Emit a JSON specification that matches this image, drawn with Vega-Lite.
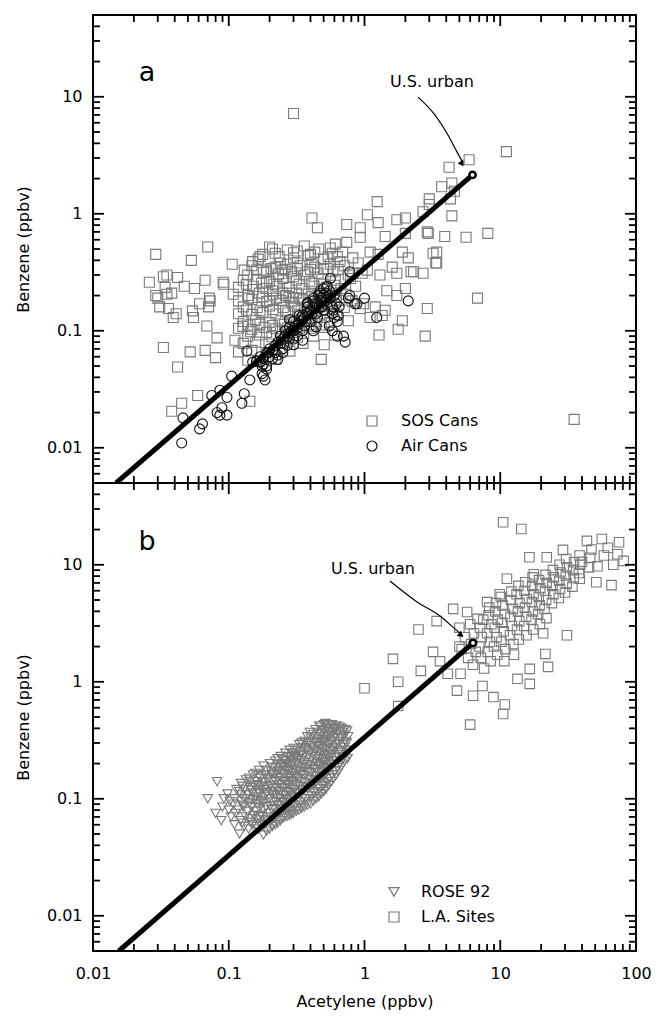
{
"$schema": "https://vega.github.io/schema/vega-lite/v6.json",
"padding": {"left": 14, "top": 14, "right": 5, "bottom": 5},
"background": "white",
"bounds": "flush",
"spacing": 0,
"config": {
  "font": "DejaVu Sans",
  "view": {"stroke": "black", "strokeWidth": 2},
  "axis": {"labelFont": "DejaVu Sans", "titleFont": "DejaVu Sans", "labelFontSize": 16, "titleFontSize": 16, "labelColor": "black", "titleColor": "black", "titleFontWeight": "normal", "domain": false, "grid": false, "labelFlush": false, "labelOverlap": false},
  "legend": {"labelFont": "DejaVu Sans", "labelFontSize": 16, "labelColor": "black", "padding": 0}
},
"resolve": {"scale": {"color": "independent", "shape": "independent"}, "legend": {"color": "independent", "shape": "independent"}},
"datasets": {
"xt": [{"v":0.01,"k":"major"},{"v":0.02,"k":"minor"},{"v":0.03,"k":"minor"},{"v":0.04,"k":"minor"},{"v":0.05,"k":"minor"},{"v":0.06,"k":"minor"},{"v":0.07,"k":"minor"},{"v":0.08,"k":"minor"},{"v":0.09,"k":"minor"},
{"v":0.1,"k":"major"},{"v":0.2,"k":"minor"},{"v":0.3,"k":"minor"},{"v":0.4,"k":"minor"},{"v":0.5,"k":"minor"},{"v":0.6,"k":"minor"},{"v":0.7,"k":"minor"},{"v":0.8,"k":"minor"},{"v":0.9,"k":"minor"},
{"v":1,"k":"major"},{"v":2,"k":"minor"},{"v":3,"k":"minor"},{"v":4,"k":"minor"},{"v":5,"k":"minor"},{"v":6,"k":"minor"},{"v":7,"k":"minor"},{"v":8,"k":"minor"},{"v":9,"k":"minor"},
{"v":10,"k":"major"},{"v":20,"k":"minor"},{"v":30,"k":"minor"},{"v":40,"k":"minor"},{"v":50,"k":"minor"},{"v":60,"k":"minor"},{"v":70,"k":"minor"},{"v":80,"k":"minor"},{"v":90,"k":"minor"},{"v":100,"k":"major"}],
"yt": [{"v":0.006,"k":"minor"},{"v":0.007,"k":"minor"},{"v":0.008,"k":"minor"},{"v":0.009,"k":"minor"},
{"v":0.01,"k":"major"},{"v":0.02,"k":"minor"},{"v":0.03,"k":"minor"},{"v":0.04,"k":"minor"},{"v":0.05,"k":"minor"},{"v":0.06,"k":"minor"},{"v":0.07,"k":"minor"},{"v":0.08,"k":"minor"},{"v":0.09,"k":"minor"},
{"v":0.1,"k":"major"},{"v":0.2,"k":"minor"},{"v":0.3,"k":"minor"},{"v":0.4,"k":"minor"},{"v":0.5,"k":"minor"},{"v":0.6,"k":"minor"},{"v":0.7,"k":"minor"},{"v":0.8,"k":"minor"},{"v":0.9,"k":"minor"},
{"v":1,"k":"major"},{"v":2,"k":"minor"},{"v":3,"k":"minor"},{"v":4,"k":"minor"},{"v":5,"k":"minor"},{"v":6,"k":"minor"},{"v":7,"k":"minor"},{"v":8,"k":"minor"},{"v":9,"k":"minor"},
{"v":10,"k":"major"},{"v":20,"k":"minor"},{"v":30,"k":"minor"},{"v":40,"k":"minor"}],
"a": [
{"s":"SOS Cans","x":0.029,"y":0.45},{"s":"SOS Cans","x":0.053,"y":0.40},{"s":"SOS Cans","x":0.106,"y":0.37},{"s":"SOS Cans","x":0.026,"y":0.26},{"s":"SOS Cans","x":0.033,"y":0.29},{"s":"SOS Cans","x":0.042,"y":0.285},{"s":"SOS Cans","x":0.056,"y":0.23},{"s":"SOS Cans","x":0.067,"y":0.27},{"s":"SOS Cans","x":0.091,"y":0.26},{"s":"SOS Cans","x":0.15,"y":0.225},
{"s":"SOS Cans","x":0.030,"y":0.19},{"s":"SOS Cans","x":0.038,"y":0.21},{"s":"SOS Cans","x":0.031,"y":0.16},{"s":"SOS Cans","x":0.039,"y":0.13},{"s":"SOS Cans","x":0.055,"y":0.13},{"s":"SOS Cans","x":0.071,"y":0.16},{"s":"SOS Cans","x":0.072,"y":0.19},{"s":"SOS Cans","x":0.069,"y":0.11},{"s":"SOS Cans","x":0.082,"y":0.087},{"s":"SOS Cans","x":0.033,"y":0.072},
{"s":"SOS Cans","x":0.052,"y":0.066},{"s":"SOS Cans","x":0.067,"y":0.068},{"s":"SOS Cans","x":0.08,"y":0.059},{"s":"SOS Cans","x":0.042,"y":0.049},{"s":"SOS Cans","x":0.059,"y":0.028},{"s":"SOS Cans","x":0.045,"y":0.024},{"s":"SOS Cans","x":0.038,"y":0.0205},{"s":"SOS Cans","x":0.143,"y":0.025},{"s":"SOS Cans","x":0.111,"y":0.083},{"s":"SOS Cans","x":0.127,"y":0.109},
{"s":"SOS Cans","x":0.48,"y":0.057},{"s":"SOS Cans","x":0.07,"y":0.52},{"s":"SOS Cans","x":0.13,"y":0.33},{"s":"SOS Cans","x":0.15,"y":0.39},{"s":"SOS Cans","x":0.17,"y":0.43},{"s":"SOS Cans","x":0.19,"y":0.32},{"s":"SOS Cans","x":0.035,"y":0.3},{"s":"SOS Cans","x":0.034,"y":0.235},{"s":"SOS Cans","x":0.047,"y":0.24},{"s":"SOS Cans","x":0.092,"y":0.25},
{"s":"SOS Cans","x":0.029,"y":0.2},{"s":"SOS Cans","x":0.035,"y":0.205},{"s":"SOS Cans","x":0.061,"y":0.17},{"s":"SOS Cans","x":0.073,"y":0.18},{"s":"SOS Cans","x":0.054,"y":0.148},{"s":"SOS Cans","x":0.036,"y":0.155},{"s":"SOS Cans","x":0.041,"y":0.14},{"s":"SOS Cans","x":0.3,"y":7.2},{"s":"SOS Cans","x":0.41,"y":0.92},{"s":"SOS Cans","x":0.45,"y":0.76},
{"s":"SOS Cans","x":1.24,"y":1.27},{"s":"SOS Cans","x":3.0,"y":1.2},{"s":"SOS Cans","x":1.05,"y":0.98},{"s":"SOS Cans","x":1.26,"y":0.84},{"s":"SOS Cans","x":1.73,"y":0.89},{"s":"SOS Cans","x":2.0,"y":0.92},{"s":"SOS Cans","x":0.74,"y":0.81},{"s":"SOS Cans","x":0.93,"y":0.76},{"s":"SOS Cans","x":0.93,"y":0.63},{"s":"SOS Cans","x":1.42,"y":0.64},
{"s":"SOS Cans","x":2.0,"y":0.68},{"s":"SOS Cans","x":2.9,"y":0.7},{"s":"SOS Cans","x":0.74,"y":0.57},{"s":"SOS Cans","x":0.56,"y":0.51},{"s":"SOS Cans","x":0.21,"y":0.5},{"s":"SOS Cans","x":0.178,"y":0.45},{"s":"SOS Cans","x":0.32,"y":0.48},{"s":"SOS Cans","x":0.4,"y":0.45},{"s":"SOS Cans","x":0.54,"y":0.43},{"s":"SOS Cans","x":0.69,"y":0.47},
{"s":"SOS Cans","x":1.1,"y":0.47},{"s":"SOS Cans","x":1.26,"y":0.45},{"s":"SOS Cans","x":1.9,"y":0.47},{"s":"SOS Cans","x":2.1,"y":0.42},{"s":"SOS Cans","x":3.2,"y":0.46},{"s":"SOS Cans","x":3.4,"y":0.38},{"s":"SOS Cans","x":0.24,"y":0.38},{"s":"SOS Cans","x":0.32,"y":0.38},{"s":"SOS Cans","x":0.41,"y":0.38},{"s":"SOS Cans","x":0.66,"y":0.39},
{"s":"SOS Cans","x":0.19,"y":0.33},{"s":"SOS Cans","x":0.25,"y":0.33},{"s":"SOS Cans","x":0.3,"y":0.29},{"s":"SOS Cans","x":0.38,"y":0.32},{"s":"SOS Cans","x":0.53,"y":0.34},{"s":"SOS Cans","x":0.82,"y":0.31},{"s":"SOS Cans","x":1.05,"y":0.33},{"s":"SOS Cans","x":1.3,"y":0.3},{"s":"SOS Cans","x":1.73,"y":0.31},{"s":"SOS Cans","x":2.2,"y":0.32},
{"s":"SOS Cans","x":2.7,"y":0.31},{"s":"SOS Cans","x":1.46,"y":0.22},{"s":"SOS Cans","x":1.73,"y":0.2},{"s":"SOS Cans","x":2.0,"y":0.23},{"s":"SOS Cans","x":2.9,"y":0.155},{"s":"SOS Cans","x":0.19,"y":0.26},{"s":"SOS Cans","x":0.21,"y":0.22},{"s":"SOS Cans","x":0.25,"y":0.21},{"s":"SOS Cans","x":0.2,"y":0.18},{"s":"SOS Cans","x":0.3,"y":0.19},
{"s":"SOS Cans","x":0.93,"y":0.155},{"s":"SOS Cans","x":1.2,"y":0.16},{"s":"SOS Cans","x":1.42,"y":0.15},{"s":"SOS Cans","x":1.1,"y":0.13},{"s":"SOS Cans","x":1.9,"y":0.122},
{"s":"SOS Cans","x":11.1,"y":3.4},{"s":"SOS Cans","x":5.9,"y":2.9},{"s":"SOS Cans","x":4.2,"y":2.5},{"s":"SOS Cans","x":3.7,"y":1.7},{"s":"SOS Cans","x":4.4,"y":1.83},{"s":"SOS Cans","x":4.6,"y":1.56},{"s":"SOS Cans","x":4.3,"y":1.34},{"s":"SOS Cans","x":4.4,"y":0.96},{"s":"SOS Cans","x":3.0,"y":1.34},{"s":"SOS Cans","x":2.7,"y":1.04},
{"s":"SOS Cans","x":2.95,"y":0.68},{"s":"SOS Cans","x":3.9,"y":0.64},{"s":"SOS Cans","x":5.6,"y":0.63},{"s":"SOS Cans","x":8.1,"y":0.68},{"s":"SOS Cans","x":3.4,"y":0.47},{"s":"SOS Cans","x":3.35,"y":0.38},
{"s":"SOS Cans","x":6.8,"y":0.19},{"s":"SOS Cans","x":1.77,"y":0.103},{"s":"SOS Cans","x":1.28,"y":0.092},{"s":"SOS Cans","x":2.8,"y":0.09},{"s":"SOS Cans","x":35,"y":0.0175},{"s":"SOS Cans","x":1.35,"y":0.135},{"s":"SOS Cans","x":0.98,"y":0.17},{"s":"SOS Cans","x":1.6,"y":0.35},{"s":"SOS Cans","x":2.3,"y":0.32},
{"s":"SOS Cans","x":0.2,"y":0.52},{"s":"SOS Cans","x":0.27,"y":0.49},{"s":"SOS Cans","x":0.36,"y":0.53},{"s":"SOS Cans","x":0.46,"y":0.5},{"s":"SOS Cans","x":0.61,"y":0.55},
{"s":"SOS Cans","x":0.165,"y":0.41},{"s":"SOS Cans","x":0.235,"y":0.43},{"s":"SOS Cans","x":0.3,"y":0.42},{"s":"SOS Cans","x":0.385,"y":0.44},{"s":"SOS Cans","x":0.5,"y":0.41},{"s":"SOS Cans","x":0.63,"y":0.43},{"s":"SOS Cans","x":0.82,"y":0.42},
{"s":"SOS Cans","x":0.148,"y":0.36},{"s":"SOS Cans","x":0.22,"y":0.35},{"s":"SOS Cans","x":0.27,"y":0.37},{"s":"SOS Cans","x":0.335,"y":0.36},{"s":"SOS Cans","x":0.43,"y":0.35},{"s":"SOS Cans","x":0.56,"y":0.37},{"s":"SOS Cans","x":0.71,"y":0.36},{"s":"SOS Cans","x":0.9,"y":0.38},
{"s":"SOS Cans","x":0.138,"y":0.3},{"s":"SOS Cans","x":0.18,"y":0.315},{"s":"SOS Cans","x":0.232,"y":0.305},{"s":"SOS Cans","x":0.29,"y":0.32},{"s":"SOS Cans","x":0.365,"y":0.3},{"s":"SOS Cans","x":0.455,"y":0.31},{"s":"SOS Cans","x":0.585,"y":0.32},{"s":"SOS Cans","x":0.76,"y":0.3},{"s":"SOS Cans","x":0.96,"y":0.31},
{"s":"SOS Cans","x":0.128,"y":0.27},{"s":"SOS Cans","x":0.16,"y":0.275},{"s":"SOS Cans","x":0.2,"y":0.265},{"s":"SOS Cans","x":0.25,"y":0.28},{"s":"SOS Cans","x":0.315,"y":0.27},{"s":"SOS Cans","x":0.395,"y":0.265},{"s":"SOS Cans","x":0.485,"y":0.275},{"s":"SOS Cans","x":0.61,"y":0.27},{"s":"SOS Cans","x":0.79,"y":0.28},
{"s":"SOS Cans","x":0.118,"y":0.235},{"s":"SOS Cans","x":0.152,"y":0.24},{"s":"SOS Cans","x":0.188,"y":0.23},{"s":"SOS Cans","x":0.23,"y":0.24},{"s":"SOS Cans","x":0.28,"y":0.235},{"s":"SOS Cans","x":0.345,"y":0.23},{"s":"SOS Cans","x":0.425,"y":0.24},{"s":"SOS Cans","x":0.525,"y":0.235},{"s":"SOS Cans","x":0.67,"y":0.23},{"s":"SOS Cans","x":0.86,"y":0.24},
{"s":"SOS Cans","x":0.108,"y":0.205},{"s":"SOS Cans","x":0.138,"y":0.2},{"s":"SOS Cans","x":0.168,"y":0.21},{"s":"SOS Cans","x":0.212,"y":0.205},{"s":"SOS Cans","x":0.262,"y":0.2},{"s":"SOS Cans","x":0.315,"y":0.21},{"s":"SOS Cans","x":0.385,"y":0.205},{"s":"SOS Cans","x":0.475,"y":0.2},{"s":"SOS Cans","x":0.59,"y":0.21},{"s":"SOS Cans","x":0.73,"y":0.205},
{"s":"SOS Cans","x":0.118,"y":0.18},{"s":"SOS Cans","x":0.148,"y":0.185},{"s":"SOS Cans","x":0.19,"y":0.178},{"s":"SOS Cans","x":0.242,"y":0.182},{"s":"SOS Cans","x":0.292,"y":0.176},{"s":"SOS Cans","x":0.352,"y":0.184},{"s":"SOS Cans","x":0.432,"y":0.18},{"s":"SOS Cans","x":0.535,"y":0.176},{"s":"SOS Cans","x":0.66,"y":0.182},{"s":"SOS Cans","x":0.81,"y":0.18},
{"s":"SOS Cans","x":0.128,"y":0.16},{"s":"SOS Cans","x":0.162,"y":0.158},{"s":"SOS Cans","x":0.2,"y":0.163},{"s":"SOS Cans","x":0.252,"y":0.158},{"s":"SOS Cans","x":0.305,"y":0.162},{"s":"SOS Cans","x":0.372,"y":0.158},{"s":"SOS Cans","x":0.462,"y":0.16},{"s":"SOS Cans","x":0.565,"y":0.163},{"s":"SOS Cans","x":0.71,"y":0.158},
{"s":"SOS Cans","x":0.118,"y":0.14},{"s":"SOS Cans","x":0.148,"y":0.138},{"s":"SOS Cans","x":0.178,"y":0.143},{"s":"SOS Cans","x":0.222,"y":0.139},{"s":"SOS Cans","x":0.272,"y":0.142},{"s":"SOS Cans","x":0.332,"y":0.138},{"s":"SOS Cans","x":0.405,"y":0.142},{"s":"SOS Cans","x":0.505,"y":0.14},{"s":"SOS Cans","x":0.625,"y":0.138},
{"s":"SOS Cans","x":0.128,"y":0.12},{"s":"SOS Cans","x":0.158,"y":0.123},{"s":"SOS Cans","x":0.198,"y":0.118},{"s":"SOS Cans","x":0.242,"y":0.122},{"s":"SOS Cans","x":0.292,"y":0.119},{"s":"SOS Cans","x":0.362,"y":0.121},{"s":"SOS Cans","x":0.445,"y":0.12},{"s":"SOS Cans","x":0.555,"y":0.118},{"s":"SOS Cans","x":0.76,"y":0.122},
{"s":"SOS Cans","x":0.118,"y":0.105},{"s":"SOS Cans","x":0.148,"y":0.103},{"s":"SOS Cans","x":0.182,"y":0.107},{"s":"SOS Cans","x":0.222,"y":0.104},{"s":"SOS Cans","x":0.272,"y":0.106},{"s":"SOS Cans","x":0.332,"y":0.103},{"s":"SOS Cans","x":0.405,"y":0.105},{"s":"SOS Cans","x":0.505,"y":0.107},
{"s":"SOS Cans","x":0.138,"y":0.09},{"s":"SOS Cans","x":0.168,"y":0.092},{"s":"SOS Cans","x":0.208,"y":0.089},{"s":"SOS Cans","x":0.262,"y":0.091},{"s":"SOS Cans","x":0.322,"y":0.088},{"s":"SOS Cans","x":0.422,"y":0.09},{"s":"SOS Cans","x":0.605,"y":0.092},
{"s":"SOS Cans","x":0.128,"y":0.078},{"s":"SOS Cans","x":0.158,"y":0.08},{"s":"SOS Cans","x":0.198,"y":0.077},{"s":"SOS Cans","x":0.252,"y":0.079},{"s":"SOS Cans","x":0.352,"y":0.078},{"s":"SOS Cans","x":0.505,"y":0.076},
{"s":"SOS Cans","x":0.118,"y":0.066},{"s":"SOS Cans","x":0.148,"y":0.068},{"s":"SOS Cans","x":0.188,"y":0.065},{"s":"SOS Cans","x":0.282,"y":0.067},
{"s":"SOS Cans","x":0.138,"y":0.056},{"s":"SOS Cans","x":0.168,"y":0.055},{"s":"SOS Cans","x":0.222,"y":0.057},
{"s":"SOS Cans","x":0.135,"y":0.25},{"s":"SOS Cans","x":0.175,"y":0.255},{"s":"SOS Cans","x":0.215,"y":0.25},{"s":"SOS Cans","x":0.265,"y":0.255},{"s":"SOS Cans","x":0.33,"y":0.25},{"s":"SOS Cans","x":0.41,"y":0.255},{"s":"SOS Cans","x":0.5,"y":0.25},{"s":"SOS Cans","x":0.6,"y":0.245},
{"s":"SOS Cans","x":0.14,"y":0.19},{"s":"SOS Cans","x":0.178,"y":0.195},{"s":"SOS Cans","x":0.225,"y":0.19},{"s":"SOS Cans","x":0.278,"y":0.195},{"s":"SOS Cans","x":0.335,"y":0.19},{"s":"SOS Cans","x":0.41,"y":0.195},{"s":"SOS Cans","x":0.5,"y":0.19},{"s":"SOS Cans","x":0.62,"y":0.195},
{"s":"SOS Cans","x":0.135,"y":0.15},{"s":"SOS Cans","x":0.17,"y":0.148},{"s":"SOS Cans","x":0.212,"y":0.152},{"s":"SOS Cans","x":0.262,"y":0.148},{"s":"SOS Cans","x":0.322,"y":0.15},{"s":"SOS Cans","x":0.395,"y":0.148},{"s":"SOS Cans","x":0.49,"y":0.15},
{"s":"SOS Cans","x":0.138,"y":0.112},{"s":"SOS Cans","x":0.17,"y":0.114},{"s":"SOS Cans","x":0.21,"y":0.111},{"s":"SOS Cans","x":0.258,"y":0.113},{"s":"SOS Cans","x":0.315,"y":0.112},{"s":"SOS Cans","x":0.39,"y":0.113},{"s":"SOS Cans","x":0.48,"y":0.112},
{"s":"SOS Cans","x":0.16,"y":0.33},{"s":"SOS Cans","x":0.205,"y":0.34},{"s":"SOS Cans","x":0.26,"y":0.335},{"s":"SOS Cans","x":0.32,"y":0.34},{"s":"SOS Cans","x":0.4,"y":0.335},{"s":"SOS Cans","x":0.5,"y":0.34},{"s":"SOS Cans","x":0.64,"y":0.335},
{"s":"SOS Cans","x":0.145,"y":0.098},{"s":"SOS Cans","x":0.19,"y":0.097},{"s":"SOS Cans","x":0.24,"y":0.098},{"s":"SOS Cans","x":0.3,"y":0.097},
{"s":"SOS Cans","x":0.22,"y":0.46},{"s":"SOS Cans","x":0.3,"y":0.465},{"s":"SOS Cans","x":0.43,"y":0.47},{"s":"SOS Cans","x":0.58,"y":0.46},
{"s":"Air Cans","x":0.78,"y":0.32},{"s":"Air Cans","x":0.56,"y":0.28},{"s":"Air Cans","x":0.47,"y":0.22},{"s":"Air Cans","x":0.42,"y":0.19},{"s":"Air Cans","x":0.76,"y":0.19},{"s":"Air Cans","x":1.0,"y":0.19},{"s":"Air Cans","x":0.88,"y":0.17},{"s":"Air Cans","x":2.1,"y":0.18},{"s":"Air Cans","x":0.38,"y":0.17},{"s":"Air Cans","x":0.49,"y":0.16},
{"s":"Air Cans","x":0.59,"y":0.15},{"s":"Air Cans","x":1.23,"y":0.13},{"s":"Air Cans","x":0.28,"y":0.125},{"s":"Air Cans","x":0.64,"y":0.135},{"s":"Air Cans","x":0.35,"y":0.135},{"s":"Air Cans","x":0.78,"y":0.2},{"s":"Air Cans","x":0.85,"y":0.17},{"s":"Air Cans","x":0.72,"y":0.08},{"s":"Air Cans","x":0.63,"y":0.09},{"s":"Air Cans","x":0.58,"y":0.1},
{"s":"Air Cans","x":0.63,"y":0.12},{"s":"Air Cans","x":0.58,"y":0.14},{"s":"Air Cans","x":0.136,"y":0.067},{"s":"Air Cans","x":0.143,"y":0.038},{"s":"Air Cans","x":0.105,"y":0.041},{"s":"Air Cans","x":0.086,"y":0.031},{"s":"Air Cans","x":0.075,"y":0.028},{"s":"Air Cans","x":0.097,"y":0.027},{"s":"Air Cans","x":0.125,"y":0.024},{"s":"Air Cans","x":0.089,"y":0.022},
{"s":"Air Cans","x":0.082,"y":0.02},{"s":"Air Cans","x":0.097,"y":0.019},{"s":"Air Cans","x":0.086,"y":0.019},{"s":"Air Cans","x":0.046,"y":0.018},{"s":"Air Cans","x":0.064,"y":0.016},{"s":"Air Cans","x":0.061,"y":0.0145},{"s":"Air Cans","x":0.045,"y":0.011},{"s":"Air Cans","x":0.176,"y":0.05},{"s":"Air Cans","x":0.195,"y":0.065},{"s":"Air Cans","x":0.176,"y":0.043},
{"s":"Air Cans","x":0.185,"y":0.038},{"s":"Air Cans","x":0.13,"y":0.029},{"s":"Air Cans","x":0.15,"y":0.054},{"s":"Air Cans","x":0.18,"y":0.041},{"s":"Air Cans","x":0.17,"y":0.054},{"s":"Air Cans","x":0.19,"y":0.047},{"s":"Air Cans","x":0.23,"y":0.057},{"s":"Air Cans","x":0.28,"y":0.108},{"s":"Air Cans","x":0.25,"y":0.065},{"s":"Air Cans","x":0.3,"y":0.076},
{"s":"Air Cans","x":0.38,"y":0.174},{"s":"Air Cans","x":0.33,"y":0.135},{"s":"Air Cans","x":0.42,"y":0.1},{"s":"Air Cans","x":0.44,"y":0.108},{"s":"Air Cans","x":0.35,"y":0.083},{"s":"Air Cans","x":0.47,"y":0.21},{"s":"Air Cans","x":0.51,"y":0.15},
{"s":"Air Cans","x":0.16,"y":0.055},{"s":"Air Cans","x":0.17,"y":0.06},{"s":"Air Cans","x":0.18,"y":0.058},{"s":"Air Cans","x":0.19,"y":0.065},{"s":"Air Cans","x":0.2,"y":0.07},{"s":"Air Cans","x":0.21,"y":0.068},{"s":"Air Cans","x":0.22,"y":0.075},{"s":"Air Cans","x":0.23,"y":0.08},{"s":"Air Cans","x":0.24,"y":0.078},{"s":"Air Cans","x":0.25,"y":0.085},
{"s":"Air Cans","x":0.26,"y":0.09},{"s":"Air Cans","x":0.27,"y":0.088},{"s":"Air Cans","x":0.28,"y":0.095},{"s":"Air Cans","x":0.29,"y":0.1},{"s":"Air Cans","x":0.3,"y":0.1},{"s":"Air Cans","x":0.31,"y":0.11},{"s":"Air Cans","x":0.32,"y":0.105},{"s":"Air Cans","x":0.33,"y":0.115},{"s":"Air Cans","x":0.34,"y":0.12},{"s":"Air Cans","x":0.35,"y":0.125},
{"s":"Air Cans","x":0.36,"y":0.13},{"s":"Air Cans","x":0.37,"y":0.12},{"s":"Air Cans","x":0.38,"y":0.14},{"s":"Air Cans","x":0.4,"y":0.15},{"s":"Air Cans","x":0.41,"y":0.14},{"s":"Air Cans","x":0.42,"y":0.16},{"s":"Air Cans","x":0.43,"y":0.17},{"s":"Air Cans","x":0.45,"y":0.17},{"s":"Air Cans","x":0.46,"y":0.16},{"s":"Air Cans","x":0.47,"y":0.18},
{"s":"Air Cans","x":0.48,"y":0.19},{"s":"Air Cans","x":0.5,"y":0.2},{"s":"Air Cans","x":0.52,"y":0.18},{"s":"Air Cans","x":0.54,"y":0.2},{"s":"Air Cans","x":0.55,"y":0.22},{"s":"Air Cans","x":0.5,"y":0.15},{"s":"Air Cans","x":0.45,"y":0.13},{"s":"Air Cans","x":0.4,"y":0.12},{"s":"Air Cans","x":0.35,"y":0.1},{"s":"Air Cans","x":0.3,"y":0.085},
{"s":"Air Cans","x":0.25,"y":0.07},{"s":"Air Cans","x":0.22,"y":0.065},{"s":"Air Cans","x":0.2,"y":0.06},{"s":"Air Cans","x":0.18,"y":0.052},{"s":"Air Cans","x":0.24,"y":0.09},{"s":"Air Cans","x":0.28,"y":0.085},{"s":"Air Cans","x":0.32,"y":0.09},{"s":"Air Cans","x":0.36,"y":0.11},{"s":"Air Cans","x":0.44,"y":0.14},{"s":"Air Cans","x":0.48,"y":0.16},
{"s":"Air Cans","x":0.52,"y":0.21},{"s":"Air Cans","x":0.56,"y":0.19},{"s":"Air Cans","x":0.6,"y":0.2},{"s":"Air Cans","x":0.62,"y":0.17},{"s":"Air Cans","x":0.58,"y":0.16},{"s":"Air Cans","x":0.53,"y":0.24},{"s":"Air Cans","x":0.5,"y":0.23},{"s":"Air Cans","x":0.46,"y":0.2},{"s":"Air Cans","x":0.42,"y":0.18},{"s":"Air Cans","x":0.38,"y":0.16},
{"s":"Air Cans","x":0.34,"y":0.13},{"s":"Air Cans","x":0.3,"y":0.12},{"s":"Air Cans","x":0.26,"y":0.1},{"s":"Air Cans","x":0.21,"y":0.058},{"s":"Air Cans","x":0.19,"y":0.05},{"s":"Air Cans","x":0.23,"y":0.062},{"s":"Air Cans","x":0.27,"y":0.075},{"s":"Air Cans","x":0.6,"y":0.13},{"s":"Air Cans","x":0.55,"y":0.11},{"s":"Air Cans","x":0.65,"y":0.16},{"s":"Air Cans","x":0.7,"y":0.09}
],
"b": [
{"s":"ROSE 92","x":0.07,"y":0.1},{"s":"ROSE 92","x":0.082,"y":0.14},{"s":"ROSE 92","x":0.08,"y":0.075},{"s":"ROSE 92","x":0.09,"y":0.085},{"s":"ROSE 92","x":0.092,"y":0.1},{"s":"ROSE 92","x":0.088,"y":0.065},
{"s":"ROSE 92","x":0.1,"y":0.08},{"s":"ROSE 92","x":0.102,"y":0.095},{"s":"ROSE 92","x":0.098,"y":0.11},{"s":"ROSE 92","x":0.104,"y":0.07},
{"s":"ROSE 92","x":0.11,"y":0.06},{"s":"ROSE 92","x":0.112,"y":0.075},{"s":"ROSE 92","x":0.108,"y":0.09},{"s":"ROSE 92","x":0.114,"y":0.12},{"s":"ROSE 92","x":0.11,"y":0.1},
{"s":"ROSE 92","x":0.12,"y":0.05},{"s":"ROSE 92","x":0.122,"y":0.065},{"s":"ROSE 92","x":0.118,"y":0.08},{"s":"ROSE 92","x":0.124,"y":0.095},{"s":"ROSE 92","x":0.12,"y":0.115},{"s":"ROSE 92","x":0.123,"y":0.135},
{"s":"ROSE 92","x":0.13,"y":0.058},{"s":"ROSE 92","x":0.133,"y":0.07},{"s":"ROSE 92","x":0.128,"y":0.085},{"s":"ROSE 92","x":0.132,"y":0.1},{"s":"ROSE 92","x":0.129,"y":0.12},{"s":"ROSE 92","x":0.134,"y":0.145},
{"s":"ROSE 92","x":0.14,"y":0.055},{"s":"ROSE 92","x":0.143,"y":0.068},{"s":"ROSE 92","x":0.138,"y":0.078},{"s":"ROSE 92","x":0.142,"y":0.092},{"s":"ROSE 92","x":0.139,"y":0.108},{"s":"ROSE 92","x":0.144,"y":0.125},{"s":"ROSE 92","x":0.141,"y":0.15},
{"s":"ROSE 92","x":0.15,"y":0.06},{"s":"ROSE 92","x":0.153,"y":0.072},{"s":"ROSE 92","x":0.148,"y":0.085},{"s":"ROSE 92","x":0.152,"y":0.098},{"s":"ROSE 92","x":0.149,"y":0.112},{"s":"ROSE 92","x":0.154,"y":0.13},{"s":"ROSE 92","x":0.151,"y":0.16},
{"s":"ROSE 92","x":0.16,"y":0.058},{"s":"ROSE 92","x":0.163,"y":0.066},{"s":"ROSE 92","x":0.158,"y":0.078},{"s":"ROSE 92","x":0.162,"y":0.09},{"s":"ROSE 92","x":0.159,"y":0.104},{"s":"ROSE 92","x":0.164,"y":0.118},{"s":"ROSE 92","x":0.161,"y":0.14},{"s":"ROSE 92","x":0.157,"y":0.165},
{"s":"ROSE 92","x":0.17,"y":0.062},{"s":"ROSE 92","x":0.173,"y":0.072},{"s":"ROSE 92","x":0.168,"y":0.084},{"s":"ROSE 92","x":0.172,"y":0.096},{"s":"ROSE 92","x":0.169,"y":0.11},{"s":"ROSE 92","x":0.174,"y":0.126},{"s":"ROSE 92","x":0.171,"y":0.15},{"s":"ROSE 92","x":0.167,"y":0.175},
{"s":"ROSE 92","x":0.18,"y":0.049},{"s":"ROSE 92","x":0.183,"y":0.06},{"s":"ROSE 92","x":0.178,"y":0.07},{"s":"ROSE 92","x":0.182,"y":0.08},{"s":"ROSE 92","x":0.179,"y":0.092},{"s":"ROSE 92","x":0.184,"y":0.105},{"s":"ROSE 92","x":0.181,"y":0.12},{"s":"ROSE 92","x":0.177,"y":0.138},{"s":"ROSE 92","x":0.185,"y":0.16},{"s":"ROSE 92","x":0.18,"y":0.19},
{"s":"ROSE 92","x":0.2,"y":0.055},{"s":"ROSE 92","x":0.204,"y":0.065},{"s":"ROSE 92","x":0.197,"y":0.075},{"s":"ROSE 92","x":0.203,"y":0.087},{"s":"ROSE 92","x":0.198,"y":0.1},{"s":"ROSE 92","x":0.205,"y":0.115},{"s":"ROSE 92","x":0.2,"y":0.13},{"s":"ROSE 92","x":0.196,"y":0.15},{"s":"ROSE 92","x":0.206,"y":0.17},{"s":"ROSE 92","x":0.201,"y":0.2},
{"s":"ROSE 92","x":0.22,"y":0.06},{"s":"ROSE 92","x":0.224,"y":0.07},{"s":"ROSE 92","x":0.217,"y":0.082},{"s":"ROSE 92","x":0.223,"y":0.094},{"s":"ROSE 92","x":0.218,"y":0.108},{"s":"ROSE 92","x":0.225,"y":0.124},{"s":"ROSE 92","x":0.22,"y":0.142},{"s":"ROSE 92","x":0.216,"y":0.162},{"s":"ROSE 92","x":0.226,"y":0.185},{"s":"ROSE 92","x":0.221,"y":0.21},
{"s":"ROSE 92","x":0.24,"y":0.065},{"s":"ROSE 92","x":0.245,"y":0.076},{"s":"ROSE 92","x":0.237,"y":0.088},{"s":"ROSE 92","x":0.243,"y":0.1},{"s":"ROSE 92","x":0.238,"y":0.115},{"s":"ROSE 92","x":0.246,"y":0.132},{"s":"ROSE 92","x":0.24,"y":0.152},{"s":"ROSE 92","x":0.236,"y":0.175},{"s":"ROSE 92","x":0.247,"y":0.2},{"s":"ROSE 92","x":0.241,"y":0.23},
{"s":"ROSE 92","x":0.26,"y":0.07},{"s":"ROSE 92","x":0.265,"y":0.08},{"s":"ROSE 92","x":0.257,"y":0.093},{"s":"ROSE 92","x":0.263,"y":0.107},{"s":"ROSE 92","x":0.258,"y":0.123},{"s":"ROSE 92","x":0.266,"y":0.14},{"s":"ROSE 92","x":0.26,"y":0.16},{"s":"ROSE 92","x":0.256,"y":0.185},{"s":"ROSE 92","x":0.267,"y":0.21},{"s":"ROSE 92","x":0.261,"y":0.245},
{"s":"ROSE 92","x":0.28,"y":0.072},{"s":"ROSE 92","x":0.285,"y":0.085},{"s":"ROSE 92","x":0.277,"y":0.098},{"s":"ROSE 92","x":0.284,"y":0.113},{"s":"ROSE 92","x":0.278,"y":0.13},{"s":"ROSE 92","x":0.286,"y":0.15},{"s":"ROSE 92","x":0.28,"y":0.172},{"s":"ROSE 92","x":0.276,"y":0.196},{"s":"ROSE 92","x":0.287,"y":0.225},{"s":"ROSE 92","x":0.281,"y":0.26},
{"s":"ROSE 92","x":0.3,"y":0.075},{"s":"ROSE 92","x":0.306,"y":0.088},{"s":"ROSE 92","x":0.297,"y":0.103},{"s":"ROSE 92","x":0.304,"y":0.12},{"s":"ROSE 92","x":0.298,"y":0.138},{"s":"ROSE 92","x":0.307,"y":0.158},{"s":"ROSE 92","x":0.3,"y":0.18},{"s":"ROSE 92","x":0.296,"y":0.205},{"s":"ROSE 92","x":0.308,"y":0.235},{"s":"ROSE 92","x":0.301,"y":0.27},
{"s":"ROSE 92","x":0.33,"y":0.08},{"s":"ROSE 92","x":0.337,"y":0.094},{"s":"ROSE 92","x":0.326,"y":0.11},{"s":"ROSE 92","x":0.335,"y":0.128},{"s":"ROSE 92","x":0.327,"y":0.148},{"s":"ROSE 92","x":0.338,"y":0.17},{"s":"ROSE 92","x":0.33,"y":0.195},{"s":"ROSE 92","x":0.325,"y":0.22},{"s":"ROSE 92","x":0.339,"y":0.25},{"s":"ROSE 92","x":0.331,"y":0.29},
{"s":"ROSE 92","x":0.36,"y":0.085},{"s":"ROSE 92","x":0.367,"y":0.1},{"s":"ROSE 92","x":0.355,"y":0.118},{"s":"ROSE 92","x":0.365,"y":0.137},{"s":"ROSE 92","x":0.357,"y":0.158},{"s":"ROSE 92","x":0.369,"y":0.18},{"s":"ROSE 92","x":0.36,"y":0.205},{"s":"ROSE 92","x":0.354,"y":0.235},{"s":"ROSE 92","x":0.37,"y":0.27},{"s":"ROSE 92","x":0.362,"y":0.31},
{"s":"ROSE 92","x":0.4,"y":0.09},{"s":"ROSE 92","x":0.408,"y":0.106},{"s":"ROSE 92","x":0.395,"y":0.125},{"s":"ROSE 92","x":0.406,"y":0.145},{"s":"ROSE 92","x":0.397,"y":0.167},{"s":"ROSE 92","x":0.41,"y":0.19},{"s":"ROSE 92","x":0.4,"y":0.218},{"s":"ROSE 92","x":0.393,"y":0.25},{"s":"ROSE 92","x":0.411,"y":0.285},{"s":"ROSE 92","x":0.402,"y":0.33},{"s":"ROSE 92","x":0.396,"y":0.37},
{"s":"ROSE 92","x":0.44,"y":0.1},{"s":"ROSE 92","x":0.449,"y":0.115},{"s":"ROSE 92","x":0.434,"y":0.135},{"s":"ROSE 92","x":0.446,"y":0.155},{"s":"ROSE 92","x":0.436,"y":0.178},{"s":"ROSE 92","x":0.451,"y":0.2},{"s":"ROSE 92","x":0.44,"y":0.23},{"s":"ROSE 92","x":0.433,"y":0.26},{"s":"ROSE 92","x":0.452,"y":0.3},{"s":"ROSE 92","x":0.442,"y":0.34},{"s":"ROSE 92","x":0.437,"y":0.39},
{"s":"ROSE 92","x":0.48,"y":0.11},{"s":"ROSE 92","x":0.49,"y":0.128},{"s":"ROSE 92","x":0.474,"y":0.148},{"s":"ROSE 92","x":0.487,"y":0.17},{"s":"ROSE 92","x":0.476,"y":0.195},{"s":"ROSE 92","x":0.492,"y":0.22},{"s":"ROSE 92","x":0.48,"y":0.25},{"s":"ROSE 92","x":0.472,"y":0.28},{"s":"ROSE 92","x":0.493,"y":0.32},{"s":"ROSE 92","x":0.482,"y":0.36},{"s":"ROSE 92","x":0.477,"y":0.41},
{"s":"ROSE 92","x":0.52,"y":0.12},{"s":"ROSE 92","x":0.531,"y":0.14},{"s":"ROSE 92","x":0.514,"y":0.16},{"s":"ROSE 92","x":0.528,"y":0.185},{"s":"ROSE 92","x":0.516,"y":0.21},{"s":"ROSE 92","x":0.533,"y":0.24},{"s":"ROSE 92","x":0.52,"y":0.27},{"s":"ROSE 92","x":0.512,"y":0.31},{"s":"ROSE 92","x":0.535,"y":0.35},{"s":"ROSE 92","x":0.523,"y":0.4},{"s":"ROSE 92","x":0.517,"y":0.44},
{"s":"ROSE 92","x":0.57,"y":0.14},{"s":"ROSE 92","x":0.582,"y":0.16},{"s":"ROSE 92","x":0.563,"y":0.185},{"s":"ROSE 92","x":0.579,"y":0.21},{"s":"ROSE 92","x":0.565,"y":0.24},{"s":"ROSE 92","x":0.585,"y":0.275},{"s":"ROSE 92","x":0.57,"y":0.31},{"s":"ROSE 92","x":0.56,"y":0.35},{"s":"ROSE 92","x":0.587,"y":0.4},{"s":"ROSE 92","x":0.573,"y":0.43},
{"s":"ROSE 92","x":0.62,"y":0.16},{"s":"ROSE 92","x":0.633,"y":0.185},{"s":"ROSE 92","x":0.612,"y":0.21},{"s":"ROSE 92","x":0.63,"y":0.24},{"s":"ROSE 92","x":0.615,"y":0.27},{"s":"ROSE 92","x":0.636,"y":0.31},{"s":"ROSE 92","x":0.62,"y":0.35},{"s":"ROSE 92","x":0.61,"y":0.39},{"s":"ROSE 92","x":0.625,"y":0.42},
{"s":"ROSE 92","x":0.68,"y":0.19},{"s":"ROSE 92","x":0.694,"y":0.22},{"s":"ROSE 92","x":0.671,"y":0.25},{"s":"ROSE 92","x":0.69,"y":0.29},{"s":"ROSE 92","x":0.674,"y":0.33},{"s":"ROSE 92","x":0.685,"y":0.37},{"s":"ROSE 92","x":0.678,"y":0.4},
{"s":"ROSE 92","x":0.75,"y":0.22},{"s":"ROSE 92","x":0.765,"y":0.26},{"s":"ROSE 92","x":0.74,"y":0.3},{"s":"ROSE 92","x":0.758,"y":0.34},{"s":"ROSE 92","x":0.745,"y":0.38},
{"s":"ROSE 92","x":0.125,"y":0.062},{"s":"ROSE 92","x":0.127,"y":0.088},{"s":"ROSE 92","x":0.124,"y":0.108},{"s":"ROSE 92","x":0.126,"y":0.128},
{"s":"ROSE 92","x":0.145,"y":0.063},{"s":"ROSE 92","x":0.147,"y":0.085},{"s":"ROSE 92","x":0.144,"y":0.1},{"s":"ROSE 92","x":0.146,"y":0.118},{"s":"ROSE 92","x":0.143,"y":0.14},
{"s":"ROSE 92","x":0.165,"y":0.055},{"s":"ROSE 92","x":0.167,"y":0.07},{"s":"ROSE 92","x":0.164,"y":0.097},{"s":"ROSE 92","x":0.166,"y":0.112},{"s":"ROSE 92","x":0.163,"y":0.132},{"s":"ROSE 92","x":0.166,"y":0.158},
{"s":"ROSE 92","x":0.19,"y":0.053},{"s":"ROSE 92","x":0.192,"y":0.066},{"s":"ROSE 92","x":0.188,"y":0.086},{"s":"ROSE 92","x":0.191,"y":0.112},{"s":"ROSE 92","x":0.189,"y":0.128},{"s":"ROSE 92","x":0.193,"y":0.145},{"s":"ROSE 92","x":0.19,"y":0.175},
{"s":"ROSE 92","x":0.21,"y":0.058},{"s":"ROSE 92","x":0.213,"y":0.07},{"s":"ROSE 92","x":0.208,"y":0.081},{"s":"ROSE 92","x":0.212,"y":0.094},{"s":"ROSE 92","x":0.209,"y":0.108},{"s":"ROSE 92","x":0.214,"y":0.122},{"s":"ROSE 92","x":0.21,"y":0.14},{"s":"ROSE 92","x":0.207,"y":0.16},{"s":"ROSE 92","x":0.212,"y":0.185},
{"s":"ROSE 92","x":0.23,"y":0.062},{"s":"ROSE 92","x":0.233,"y":0.075},{"s":"ROSE 92","x":0.228,"y":0.088},{"s":"ROSE 92","x":0.232,"y":0.101},{"s":"ROSE 92","x":0.229,"y":0.116},{"s":"ROSE 92","x":0.234,"y":0.132},{"s":"ROSE 92","x":0.23,"y":0.15},{"s":"ROSE 92","x":0.227,"y":0.17},{"s":"ROSE 92","x":0.233,"y":0.195},{"s":"ROSE 92","x":0.229,"y":0.22},
{"s":"ROSE 92","x":0.25,"y":0.068},{"s":"ROSE 92","x":0.253,"y":0.082},{"s":"ROSE 92","x":0.248,"y":0.094},{"s":"ROSE 92","x":0.252,"y":0.108},{"s":"ROSE 92","x":0.249,"y":0.124},{"s":"ROSE 92","x":0.254,"y":0.142},{"s":"ROSE 92","x":0.25,"y":0.163},{"s":"ROSE 92","x":0.247,"y":0.19},{"s":"ROSE 92","x":0.253,"y":0.215},
{"s":"ROSE 92","x":0.27,"y":0.071},{"s":"ROSE 92","x":0.274,"y":0.086},{"s":"ROSE 92","x":0.268,"y":0.1},{"s":"ROSE 92","x":0.273,"y":0.115},{"s":"ROSE 92","x":0.269,"y":0.133},{"s":"ROSE 92","x":0.275,"y":0.153},{"s":"ROSE 92","x":0.27,"y":0.176},{"s":"ROSE 92","x":0.267,"y":0.2},{"s":"ROSE 92","x":0.273,"y":0.23},
{"s":"ROSE 92","x":0.29,"y":0.074},{"s":"ROSE 92","x":0.294,"y":0.09},{"s":"ROSE 92","x":0.288,"y":0.106},{"s":"ROSE 92","x":0.293,"y":0.124},{"s":"ROSE 92","x":0.289,"y":0.143},{"s":"ROSE 92","x":0.295,"y":0.165},{"s":"ROSE 92","x":0.29,"y":0.19},{"s":"ROSE 92","x":0.287,"y":0.215},{"s":"ROSE 92","x":0.293,"y":0.245},
{"s":"ROSE 92","x":0.315,"y":0.078},{"s":"ROSE 92","x":0.32,"y":0.096},{"s":"ROSE 92","x":0.312,"y":0.113},{"s":"ROSE 92","x":0.318,"y":0.132},{"s":"ROSE 92","x":0.313,"y":0.152},{"s":"ROSE 92","x":0.321,"y":0.175},{"s":"ROSE 92","x":0.315,"y":0.2},{"s":"ROSE 92","x":0.311,"y":0.23},{"s":"ROSE 92","x":0.319,"y":0.26},
{"s":"ROSE 92","x":0.345,"y":0.083},{"s":"ROSE 92","x":0.35,"y":0.1},{"s":"ROSE 92","x":0.341,"y":0.12},{"s":"ROSE 92","x":0.348,"y":0.14},{"s":"ROSE 92","x":0.342,"y":0.162},{"s":"ROSE 92","x":0.351,"y":0.186},{"s":"ROSE 92","x":0.345,"y":0.212},{"s":"ROSE 92","x":0.34,"y":0.24},{"s":"ROSE 92","x":0.349,"y":0.275},{"s":"ROSE 92","x":0.344,"y":0.3},
{"s":"ROSE 92","x":0.38,"y":0.088},{"s":"ROSE 92","x":0.386,"y":0.106},{"s":"ROSE 92","x":0.376,"y":0.127},{"s":"ROSE 92","x":0.384,"y":0.148},{"s":"ROSE 92","x":0.377,"y":0.171},{"s":"ROSE 92","x":0.387,"y":0.196},{"s":"ROSE 92","x":0.38,"y":0.225},{"s":"ROSE 92","x":0.375,"y":0.26},{"s":"ROSE 92","x":0.385,"y":0.3},{"s":"ROSE 92","x":0.379,"y":0.34},
{"s":"ROSE 92","x":0.42,"y":0.095},{"s":"ROSE 92","x":0.427,"y":0.112},{"s":"ROSE 92","x":0.415,"y":0.133},{"s":"ROSE 92","x":0.425,"y":0.155},{"s":"ROSE 92","x":0.417,"y":0.18},{"s":"ROSE 92","x":0.428,"y":0.207},{"s":"ROSE 92","x":0.42,"y":0.238},{"s":"ROSE 92","x":0.414,"y":0.272},{"s":"ROSE 92","x":0.426,"y":0.31},{"s":"ROSE 92","x":0.419,"y":0.355},
{"s":"ROSE 92","x":0.46,"y":0.104},{"s":"ROSE 92","x":0.468,"y":0.122},{"s":"ROSE 92","x":0.455,"y":0.143},{"s":"ROSE 92","x":0.466,"y":0.166},{"s":"ROSE 92","x":0.457,"y":0.19},{"s":"ROSE 92","x":0.469,"y":0.218},{"s":"ROSE 92","x":0.46,"y":0.25},{"s":"ROSE 92","x":0.454,"y":0.285},{"s":"ROSE 92","x":0.467,"y":0.325},{"s":"ROSE 92","x":0.459,"y":0.37},{"s":"ROSE 92","x":0.463,"y":0.42},
{"s":"ROSE 92","x":0.5,"y":0.115},{"s":"ROSE 92","x":0.509,"y":0.134},{"s":"ROSE 92","x":0.495,"y":0.155},{"s":"ROSE 92","x":0.507,"y":0.18},{"s":"ROSE 92","x":0.497,"y":0.205},{"s":"ROSE 92","x":0.51,"y":0.235},{"s":"ROSE 92","x":0.5,"y":0.265},{"s":"ROSE 92","x":0.494,"y":0.3},{"s":"ROSE 92","x":0.508,"y":0.34},{"s":"ROSE 92","x":0.499,"y":0.385},{"s":"ROSE 92","x":0.503,"y":0.43},
{"s":"ROSE 92","x":0.545,"y":0.13},{"s":"ROSE 92","x":0.555,"y":0.15},{"s":"ROSE 92","x":0.539,"y":0.173},{"s":"ROSE 92","x":0.552,"y":0.198},{"s":"ROSE 92","x":0.541,"y":0.226},{"s":"ROSE 92","x":0.556,"y":0.258},{"s":"ROSE 92","x":0.545,"y":0.292},{"s":"ROSE 92","x":0.538,"y":0.33},{"s":"ROSE 92","x":0.553,"y":0.375},{"s":"ROSE 92","x":0.546,"y":0.42},
{"s":"ROSE 92","x":0.595,"y":0.15},{"s":"ROSE 92","x":0.606,"y":0.172},{"s":"ROSE 92","x":0.588,"y":0.197},{"s":"ROSE 92","x":0.603,"y":0.225},{"s":"ROSE 92","x":0.59,"y":0.256},{"s":"ROSE 92","x":0.607,"y":0.29},{"s":"ROSE 92","x":0.595,"y":0.33},{"s":"ROSE 92","x":0.587,"y":0.37},{"s":"ROSE 92","x":0.601,"y":0.41},
{"s":"ROSE 92","x":0.65,"y":0.175},{"s":"ROSE 92","x":0.662,"y":0.2},{"s":"ROSE 92","x":0.643,"y":0.228},{"s":"ROSE 92","x":0.659,"y":0.26},{"s":"ROSE 92","x":0.645,"y":0.295},{"s":"ROSE 92","x":0.663,"y":0.335},{"s":"ROSE 92","x":0.65,"y":0.375},{"s":"ROSE 92","x":0.656,"y":0.41},
{"s":"ROSE 92","x":0.715,"y":0.21},{"s":"ROSE 92","x":0.728,"y":0.24},{"s":"ROSE 92","x":0.707,"y":0.275},{"s":"ROSE 92","x":0.724,"y":0.31},{"s":"ROSE 92","x":0.71,"y":0.35},{"s":"ROSE 92","x":0.72,"y":0.39},
{"s":"L.A. Sites","x":10.5,"y":23.1},{"s":"L.A. Sites","x":14.3,"y":20.2},{"s":"L.A. Sites","x":43.5,"y":16},{"s":"L.A. Sites","x":56,"y":16.6},{"s":"L.A. Sites","x":75,"y":15.6},{"s":"L.A. Sites","x":29,"y":13.4},{"s":"L.A. Sites","x":16.4,"y":11.6},{"s":"L.A. Sites","x":73,"y":12.3},{"s":"L.A. Sites","x":81,"y":10.8},{"s":"L.A. Sites","x":22,"y":11.6},
{"s":"L.A. Sites","x":40,"y":10.6},{"s":"L.A. Sites","x":52,"y":9.7},{"s":"L.A. Sites","x":17.7,"y":8.3},{"s":"L.A. Sites","x":11.2,"y":7.6},{"s":"L.A. Sites","x":66,"y":6.7},{"s":"L.A. Sites","x":51,"y":7.1},{"s":"L.A. Sites","x":38.5,"y":7.6},{"s":"L.A. Sites","x":4.5,"y":4.2},{"s":"L.A. Sites","x":5.7,"y":3.95},{"s":"L.A. Sites","x":8.0,"y":4.8},
{"s":"L.A. Sites","x":9.9,"y":5.6},{"s":"L.A. Sites","x":3.4,"y":3.3},{"s":"L.A. Sites","x":2.5,"y":2.8},{"s":"L.A. Sites","x":6.8,"y":3.45},{"s":"L.A. Sites","x":31,"y":2.5},{"s":"L.A. Sites","x":20.7,"y":2.6},{"s":"L.A. Sites","x":3.2,"y":1.8},{"s":"L.A. Sites","x":5.0,"y":2.0},{"s":"L.A. Sites","x":1.62,"y":1.57},{"s":"L.A. Sites","x":2.6,"y":1.24},
{"s":"L.A. Sites","x":3.6,"y":1.5},{"s":"L.A. Sites","x":4.1,"y":1.17},{"s":"L.A. Sites","x":5.1,"y":1.17},{"s":"L.A. Sites","x":1.77,"y":1.0},{"s":"L.A. Sites","x":4.8,"y":0.84},{"s":"L.A. Sites","x":6.3,"y":0.76},{"s":"L.A. Sites","x":8.9,"y":0.74},{"s":"L.A. Sites","x":7.4,"y":0.92},{"s":"L.A. Sites","x":10.8,"y":0.64},{"s":"L.A. Sites","x":10.5,"y":0.53},
{"s":"L.A. Sites","x":6.0,"y":0.43},{"s":"L.A. Sites","x":13.4,"y":1.06},{"s":"L.A. Sites","x":16.5,"y":0.96},{"s":"L.A. Sites","x":21.5,"y":1.73},{"s":"L.A. Sites","x":22.5,"y":1.34},{"s":"L.A. Sites","x":16.5,"y":1.29},{"s":"L.A. Sites","x":1.0,"y":0.88},{"s":"L.A. Sites","x":1.77,"y":0.62},
{"s":"L.A. Sites","x":5.2,"y":1.9},{"s":"L.A. Sites","x":5.5,"y":2.4},{"s":"L.A. Sites","x":5.0,"y":2.9},{"s":"L.A. Sites","x":5.8,"y":1.6},
{"s":"L.A. Sites","x":6.1,"y":2.1},{"s":"L.A. Sites","x":6.4,"y":2.6},{"s":"L.A. Sites","x":6.0,"y":3.1},{"s":"L.A. Sites","x":6.6,"y":1.8},{"s":"L.A. Sites","x":6.3,"y":1.4},
{"s":"L.A. Sites","x":7.0,"y":2.0},{"s":"L.A. Sites","x":7.3,"y":2.4},{"s":"L.A. Sites","x":7.1,"y":2.9},{"s":"L.A. Sites","x":7.5,"y":3.4},{"s":"L.A. Sites","x":7.2,"y":1.6},{"s":"L.A. Sites","x":7.6,"y":1.3},
{"s":"L.A. Sites","x":8.1,"y":1.8},{"s":"L.A. Sites","x":8.4,"y":2.2},{"s":"L.A. Sites","x":8.0,"y":2.6},{"s":"L.A. Sites","x":8.6,"y":3.1},{"s":"L.A. Sites","x":8.2,"y":3.7},{"s":"L.A. Sites","x":8.5,"y":1.5},{"s":"L.A. Sites","x":8.3,"y":4.3},
{"s":"L.A. Sites","x":9.0,"y":2.0},{"s":"L.A. Sites","x":9.4,"y":2.4},{"s":"L.A. Sites","x":9.1,"y":2.9},{"s":"L.A. Sites","x":9.6,"y":3.4},{"s":"L.A. Sites","x":9.2,"y":4.0},{"s":"L.A. Sites","x":9.5,"y":1.7},{"s":"L.A. Sites","x":9.3,"y":4.7},
{"s":"L.A. Sites","x":10.2,"y":2.2},{"s":"L.A. Sites","x":10.6,"y":2.7},{"s":"L.A. Sites","x":10.3,"y":3.2},{"s":"L.A. Sites","x":10.8,"y":3.8},{"s":"L.A. Sites","x":10.4,"y":4.5},{"s":"L.A. Sites","x":10.9,"y":1.9},{"s":"L.A. Sites","x":10.1,"y":5.3},{"s":"L.A. Sites","x":10.7,"y":1.5},
{"s":"L.A. Sites","x":11.8,"y":2.5},{"s":"L.A. Sites","x":12.2,"y":3.0},{"s":"L.A. Sites","x":11.9,"y":3.6},{"s":"L.A. Sites","x":12.4,"y":4.2},{"s":"L.A. Sites","x":12.0,"y":5.0},{"s":"L.A. Sites","x":12.5,"y":2.1},{"s":"L.A. Sites","x":12.1,"y":5.9},{"s":"L.A. Sites","x":12.6,"y":1.7},
{"s":"L.A. Sites","x":13.3,"y":2.8},{"s":"L.A. Sites","x":13.8,"y":3.3},{"s":"L.A. Sites","x":13.5,"y":4.0},{"s":"L.A. Sites","x":13.9,"y":4.7},{"s":"L.A. Sites","x":13.2,"y":5.6},{"s":"L.A. Sites","x":13.7,"y":2.3},{"s":"L.A. Sites","x":13.6,"y":6.6},
{"s":"L.A. Sites","x":15.0,"y":3.0},{"s":"L.A. Sites","x":15.5,"y":3.6},{"s":"L.A. Sites","x":15.2,"y":4.3},{"s":"L.A. Sites","x":15.7,"y":5.1},{"s":"L.A. Sites","x":15.1,"y":6.0},{"s":"L.A. Sites","x":15.6,"y":2.5},{"s":"L.A. Sites","x":15.3,"y":7.1},
{"s":"L.A. Sites","x":17.0,"y":3.4},{"s":"L.A. Sites","x":17.4,"y":4.0},{"s":"L.A. Sites","x":17.1,"y":4.8},{"s":"L.A. Sites","x":17.6,"y":5.6},{"s":"L.A. Sites","x":17.2,"y":6.6},{"s":"L.A. Sites","x":17.5,"y":2.8},{"s":"L.A. Sites","x":17.3,"y":7.8},
{"s":"L.A. Sites","x":19.0,"y":3.8},{"s":"L.A. Sites","x":19.5,"y":4.5},{"s":"L.A. Sites","x":19.2,"y":5.3},{"s":"L.A. Sites","x":19.7,"y":6.3},{"s":"L.A. Sites","x":19.3,"y":7.4},{"s":"L.A. Sites","x":19.6,"y":3.1},
{"s":"L.A. Sites","x":21.2,"y":4.2},{"s":"L.A. Sites","x":21.8,"y":5.0},{"s":"L.A. Sites","x":21.4,"y":6.0},{"s":"L.A. Sites","x":22.0,"y":7.0},{"s":"L.A. Sites","x":21.6,"y":8.2},{"s":"L.A. Sites","x":21.9,"y":3.5},
{"s":"L.A. Sites","x":24.0,"y":4.7},{"s":"L.A. Sites","x":24.6,"y":5.6},{"s":"L.A. Sites","x":24.2,"y":6.6},{"s":"L.A. Sites","x":24.8,"y":7.8},{"s":"L.A. Sites","x":24.4,"y":9.0},
{"s":"L.A. Sites","x":27.0,"y":5.2},{"s":"L.A. Sites","x":27.6,"y":6.2},{"s":"L.A. Sites","x":27.2,"y":7.3},{"s":"L.A. Sites","x":27.8,"y":8.6},{"s":"L.A. Sites","x":27.4,"y":10.0},
{"s":"L.A. Sites","x":30.0,"y":5.8},{"s":"L.A. Sites","x":30.8,"y":6.9},{"s":"L.A. Sites","x":30.4,"y":8.1},{"s":"L.A. Sites","x":31.0,"y":9.5},{"s":"L.A. Sites","x":30.6,"y":11.2},
{"s":"L.A. Sites","x":34.0,"y":6.5},{"s":"L.A. Sites","x":34.8,"y":7.7},{"s":"L.A. Sites","x":34.4,"y":9.0},{"s":"L.A. Sites","x":35.0,"y":10.5},
{"s":"L.A. Sites","x":38.0,"y":8.5},{"s":"L.A. Sites","x":38.8,"y":10.0},{"s":"L.A. Sites","x":38.4,"y":12.0},
{"s":"L.A. Sites","x":45,"y":9.5},{"s":"L.A. Sites","x":46,"y":11.5},{"s":"L.A. Sites","x":47,"y":13.5},{"s":"L.A. Sites","x":58,"y":12},{"s":"L.A. Sites","x":62,"y":14},{"s":"L.A. Sites","x":68,"y":10}
]
},
"vconcat": [
{
"width": 543, "height": 468,
"resolve": {"axis": {"x": "independent", "y": "independent"}},
"layer": [
{
"data": {"name": "a"},
"mark": {"type": "point", "filled": false, "strokeWidth": 1.1, "size": 100, "opacity": 1},
"encoding": {
"x": {"field": "x", "type": "quantitative", "scale": {"type": "log", "domain": [0.01, 100], "nice": false}, "axis": null},
"y": {"field": "y", "type": "quantitative", "scale": {"type": "log", "domain": [0.005, 50], "nice": false}, "axis": {"orient": "left", "values": [0.01, 0.1, 1, 10], "ticks": false, "tickSize": 0, "labelExpr": "format(datum.value, '~g')", "labelPadding": 11, "title": "Benzene (ppbv)", "titleX": -62}},
"shape": {"field": "s", "type": "nominal", "scale": {"domain": ["SOS Cans", "Air Cans"], "range": ["square", "circle"]}, "legend": {"orient": "none", "legendX": 271, "legendY": 398, "title": null, "labelFontSize": 16, "labelFont": "DejaVu Sans", "labelOffset": 21, "rowPadding": 9, "symbolSize": 100, "symbolStrokeWidth": 1.2}},
"color": {"field": "s", "type": "nominal", "scale": {"domain": ["SOS Cans", "Air Cans"], "range": ["#7a7a7a", "#111111"]}, "legend": {"orient": "none", "legendX": 271, "legendY": 398, "title": null, "labelFontSize": 16, "labelFont": "DejaVu Sans", "labelOffset": 21, "rowPadding": 9, "symbolSize": 100, "symbolStrokeWidth": 1.2}}
}
},
{
"data": {"name": "xt"},
"mark": {"type": "tick", "orient": "vertical", "thickness": 1.8, "color": "black", "opacity": 1, "clip": true},
"encoding": {
"x": {"field": "v", "type": "quantitative", "scale": {"type": "log", "domain": [0.01, 100], "nice": false}, "axis": null},
"y": {"datum": 0.005, "type": "quantitative", "scale": {"type": "log", "domain": [0.005, 50], "nice": false}, "axis": null},
"size": {"field": "k", "type": "ordinal", "scale": {"domain": ["major", "minor"], "range": [22, 14]}, "legend": null}
}
},
{
"data": {"name": "xt"},
"mark": {"type": "tick", "orient": "vertical", "thickness": 1.8, "color": "black", "opacity": 1, "clip": true},
"encoding": {
"x": {"field": "v", "type": "quantitative", "scale": {"type": "log", "domain": [0.01, 100], "nice": false}, "axis": null},
"y": {"datum": 50, "type": "quantitative", "scale": {"type": "log", "domain": [0.005, 50], "nice": false}, "axis": null},
"size": {"field": "k", "type": "ordinal", "scale": {"domain": ["major", "minor"], "range": [22, 14]}, "legend": null}
}
},
{
"data": {"name": "yt"},
"mark": {"type": "tick", "orient": "horizontal", "thickness": 1.8, "color": "black", "opacity": 1, "clip": true},
"encoding": {
"y": {"field": "v", "type": "quantitative", "scale": {"type": "log", "domain": [0.005, 50], "nice": false}, "axis": null},
"x": {"datum": 0.01, "type": "quantitative", "scale": {"type": "log", "domain": [0.01, 100], "nice": false}, "axis": null},
"size": {"field": "k", "type": "ordinal", "scale": {"domain": ["major", "minor"], "range": [22, 14]}, "legend": null}
}
},
{
"data": {"name": "yt"},
"mark": {"type": "tick", "orient": "horizontal", "thickness": 1.8, "color": "black", "opacity": 1, "clip": true},
"encoding": {
"y": {"field": "v", "type": "quantitative", "scale": {"type": "log", "domain": [0.005, 50], "nice": false}, "axis": null},
"x": {"datum": 100, "type": "quantitative", "scale": {"type": "log", "domain": [0.01, 100], "nice": false}, "axis": null},
"size": {"field": "k", "type": "ordinal", "scale": {"domain": ["major", "minor"], "range": [22, 14]}, "legend": null}
}
},
{
"data": {"values": [{"x": 0.0148, "y": 0.005}, {"x": 6.25, "y": 2.15}]},
"mark": {"type": "line", "color": "black", "strokeWidth": 5, "clip": true},
"encoding": {
"x": {"field": "x", "type": "quantitative", "scale": {"type": "log", "domain": [0.01, 100], "nice": false}, "axis": null},
"y": {"field": "y", "type": "quantitative", "scale": {"type": "log", "domain": [0.005, 50], "nice": false}, "axis": null}
}
},
{
"data": {"values": [{"x": 6.25, "y": 2.15}]},
"mark": {"type": "point", "shape": "circle", "filled": true, "fill": "white", "stroke": "black", "strokeWidth": 2.5, "size": 40, "opacity": 1},
"encoding": {
"x": {"field": "x", "type": "quantitative", "scale": {"type": "log", "domain": [0.01, 100], "nice": false}, "axis": null},
"y": {"field": "y", "type": "quantitative", "scale": {"type": "log", "domain": [0.005, 50], "nice": false}, "axis": null}
}
},
{
"data": {"values": [{"x": 2.48, "y": 9.94}, {"x": 3.31, "y": 6.98}, {"x": 4.12, "y": 4.72}, {"x": 4.8, "y": 3.38}, {"x": 5.32, "y": 2.72}]},
"mark": {"type": "line", "color": "black", "strokeWidth": 1.2, "interpolate": "monotone"},
"encoding": {
"x": {"field": "x", "type": "quantitative", "scale": {"type": "log", "domain": [0.01, 100], "nice": false}, "axis": null},
"y": {"field": "y", "type": "quantitative", "scale": {"type": "log", "domain": [0.005, 50], "nice": false}, "axis": null}
}
},
{
"data": {"values": [{"x": 5.23, "y": 2.67}]},
"mark": {"type": "point", "shape": "triangle-up", "filled": true, "color": "black", "size": 45, "angle": 145, "opacity": 1},
"encoding": {
"x": {"field": "x", "type": "quantitative", "scale": {"type": "log", "domain": [0.01, 100], "nice": false}, "axis": null},
"y": {"field": "y", "type": "quantitative", "scale": {"type": "log", "domain": [0.005, 50], "nice": false}, "axis": null}
}
},
{
"data": {"values": [{"x": 3.14, "y": 13.3, "t": "U.S. urban"}]},
"mark": {"type": "text", "font": "DejaVu Sans", "fontSize": 16, "align": "center", "baseline": "middle", "color": "black"},
"encoding": {
"x": {"field": "x", "type": "quantitative", "scale": {"type": "log", "domain": [0.01, 100], "nice": false}, "axis": null},
"y": {"field": "y", "type": "quantitative", "scale": {"type": "log", "domain": [0.005, 50], "nice": false}, "axis": null},
"text": {"field": "t"}
}
},
{
"data": {"values": [{"x": 0.025, "y": 15.9, "t": "a"}]},
"mark": {"type": "text", "font": "DejaVu Sans", "fontSize": 27, "align": "center", "baseline": "middle", "color": "black"},
"encoding": {
"x": {"field": "x", "type": "quantitative", "scale": {"type": "log", "domain": [0.01, 100], "nice": false}, "axis": null},
"y": {"field": "y", "type": "quantitative", "scale": {"type": "log", "domain": [0.005, 50], "nice": false}, "axis": null},
"text": {"field": "t"}
}
}
]
},
{
"width": 543, "height": 468,
"resolve": {"axis": {"x": "independent", "y": "independent"}},
"layer": [
{
"data": {"name": "b"},
"mark": {"type": "point", "filled": false, "strokeWidth": 1.1, "size": 90, "opacity": 1},
"encoding": {
"x": {"field": "x", "type": "quantitative", "scale": {"type": "log", "domain": [0.01, 100], "nice": false}, "axis": {"orient": "bottom", "values": [0.01, 0.1, 1, 10, 100], "ticks": false, "tickSize": 0, "labelExpr": "format(datum.value, '~g')", "labelPadding": 14, "title": "Acetylene (ppbv)", "titleY": 42}},
"y": {"field": "y", "type": "quantitative", "scale": {"type": "log", "domain": [0.005, 50], "nice": false}, "axis": {"orient": "left", "values": [0.01, 0.1, 1, 10], "ticks": false, "tickSize": 0, "labelExpr": "format(datum.value, '~g')", "labelPadding": 11, "title": "Benzene (ppbv)", "titleX": -62}},
"shape": {"field": "s", "type": "nominal", "scale": {"domain": ["ROSE 92", "L.A. Sites"], "range": ["triangle-down", "square"]}, "legend": {"orient": "none", "legendX": 293, "legendY": 401, "title": null, "labelFontSize": 16, "labelFont": "DejaVu Sans", "labelOffset": 19, "rowPadding": 9, "symbolSize": 100, "symbolStrokeWidth": 1.2}},
"color": {"field": "s", "type": "nominal", "scale": {"domain": ["ROSE 92", "L.A. Sites"], "range": ["#7a7a7a", "#7a7a7a"]}, "legend": {"orient": "none", "legendX": 293, "legendY": 401, "title": null, "labelFontSize": 16, "labelFont": "DejaVu Sans", "labelOffset": 19, "rowPadding": 9, "symbolSize": 100, "symbolStrokeWidth": 1.2}}
}
},
{
"data": {"name": "xt"},
"mark": {"type": "tick", "orient": "vertical", "thickness": 1.8, "color": "black", "opacity": 1, "clip": true},
"encoding": {
"x": {"field": "v", "type": "quantitative", "scale": {"type": "log", "domain": [0.01, 100], "nice": false}, "axis": null},
"y": {"datum": 0.005, "type": "quantitative", "scale": {"type": "log", "domain": [0.005, 50], "nice": false}, "axis": null},
"size": {"field": "k", "type": "ordinal", "scale": {"domain": ["major", "minor"], "range": [22, 14]}, "legend": null}
}
},
{
"data": {"name": "xt"},
"mark": {"type": "tick", "orient": "vertical", "thickness": 1.8, "color": "black", "opacity": 1, "clip": true},
"encoding": {
"x": {"field": "v", "type": "quantitative", "scale": {"type": "log", "domain": [0.01, 100], "nice": false}, "axis": null},
"y": {"datum": 50, "type": "quantitative", "scale": {"type": "log", "domain": [0.005, 50], "nice": false}, "axis": null},
"size": {"field": "k", "type": "ordinal", "scale": {"domain": ["major", "minor"], "range": [22, 14]}, "legend": null}
}
},
{
"data": {"name": "yt"},
"mark": {"type": "tick", "orient": "horizontal", "thickness": 1.8, "color": "black", "opacity": 1, "clip": true},
"encoding": {
"y": {"field": "v", "type": "quantitative", "scale": {"type": "log", "domain": [0.005, 50], "nice": false}, "axis": null},
"x": {"datum": 0.01, "type": "quantitative", "scale": {"type": "log", "domain": [0.01, 100], "nice": false}, "axis": null},
"size": {"field": "k", "type": "ordinal", "scale": {"domain": ["major", "minor"], "range": [22, 14]}, "legend": null}
}
},
{
"data": {"name": "yt"},
"mark": {"type": "tick", "orient": "horizontal", "thickness": 1.8, "color": "black", "opacity": 1, "clip": true},
"encoding": {
"y": {"field": "v", "type": "quantitative", "scale": {"type": "log", "domain": [0.005, 50], "nice": false}, "axis": null},
"x": {"datum": 100, "type": "quantitative", "scale": {"type": "log", "domain": [0.01, 100], "nice": false}, "axis": null},
"size": {"field": "k", "type": "ordinal", "scale": {"domain": ["major", "minor"], "range": [22, 14]}, "legend": null}
}
},
{
"data": {"values": [{"x": 0.0155, "y": 0.005}, {"x": 6.3, "y": 2.15}]},
"mark": {"type": "line", "color": "black", "strokeWidth": 5, "clip": true},
"encoding": {
"x": {"field": "x", "type": "quantitative", "scale": {"type": "log", "domain": [0.01, 100], "nice": false}, "axis": null},
"y": {"field": "y", "type": "quantitative", "scale": {"type": "log", "domain": [0.005, 50], "nice": false}, "axis": null}
}
},
{
"data": {"values": [{"x": 6.3, "y": 2.15}]},
"mark": {"type": "point", "shape": "circle", "filled": true, "fill": "white", "stroke": "black", "strokeWidth": 2.5, "size": 40, "opacity": 1},
"encoding": {
"x": {"field": "x", "type": "quantitative", "scale": {"type": "log", "domain": [0.01, 100], "nice": false}, "axis": null},
"y": {"field": "y", "type": "quantitative", "scale": {"type": "log", "domain": [0.005, 50], "nice": false}, "axis": null}
}
},
{
"data": {"values": [{"x": 1.54, "y": 7.26}, {"x": 2.44, "y": 4.81}, {"x": 3.6, "y": 3.65}, {"x": 4.64, "y": 2.83}, {"x": 5.32, "y": 2.47}]},
"mark": {"type": "line", "color": "black", "strokeWidth": 1.2, "interpolate": "monotone"},
"encoding": {
"x": {"field": "x", "type": "quantitative", "scale": {"type": "log", "domain": [0.01, 100], "nice": false}, "axis": null},
"y": {"field": "y", "type": "quantitative", "scale": {"type": "log", "domain": [0.005, 50], "nice": false}, "axis": null}
}
},
{
"data": {"values": [{"x": 5.14, "y": 2.5}]},
"mark": {"type": "point", "shape": "triangle-up", "filled": true, "color": "black", "size": 45, "angle": 128, "opacity": 1},
"encoding": {
"x": {"field": "x", "type": "quantitative", "scale": {"type": "log", "domain": [0.01, 100], "nice": false}, "axis": null},
"y": {"field": "y", "type": "quantitative", "scale": {"type": "log", "domain": [0.005, 50], "nice": false}, "axis": null}
}
},
{
"data": {"values": [{"x": 1.155, "y": 9.19, "t": "U.S. urban"}]},
"mark": {"type": "text", "font": "DejaVu Sans", "fontSize": 16, "align": "center", "baseline": "middle", "color": "black"},
"encoding": {
"x": {"field": "x", "type": "quantitative", "scale": {"type": "log", "domain": [0.01, 100], "nice": false}, "axis": null},
"y": {"field": "y", "type": "quantitative", "scale": {"type": "log", "domain": [0.005, 50], "nice": false}, "axis": null},
"text": {"field": "t"}
}
},
{
"data": {"values": [{"x": 0.025, "y": 15.6, "t": "b"}]},
"mark": {"type": "text", "font": "DejaVu Sans", "fontSize": 27, "align": "center", "baseline": "middle", "color": "black"},
"encoding": {
"x": {"field": "x", "type": "quantitative", "scale": {"type": "log", "domain": [0.01, 100], "nice": false}, "axis": null},
"y": {"field": "y", "type": "quantitative", "scale": {"type": "log", "domain": [0.005, 50], "nice": false}, "axis": null},
"text": {"field": "t"}
}
}
]
}
]
}
